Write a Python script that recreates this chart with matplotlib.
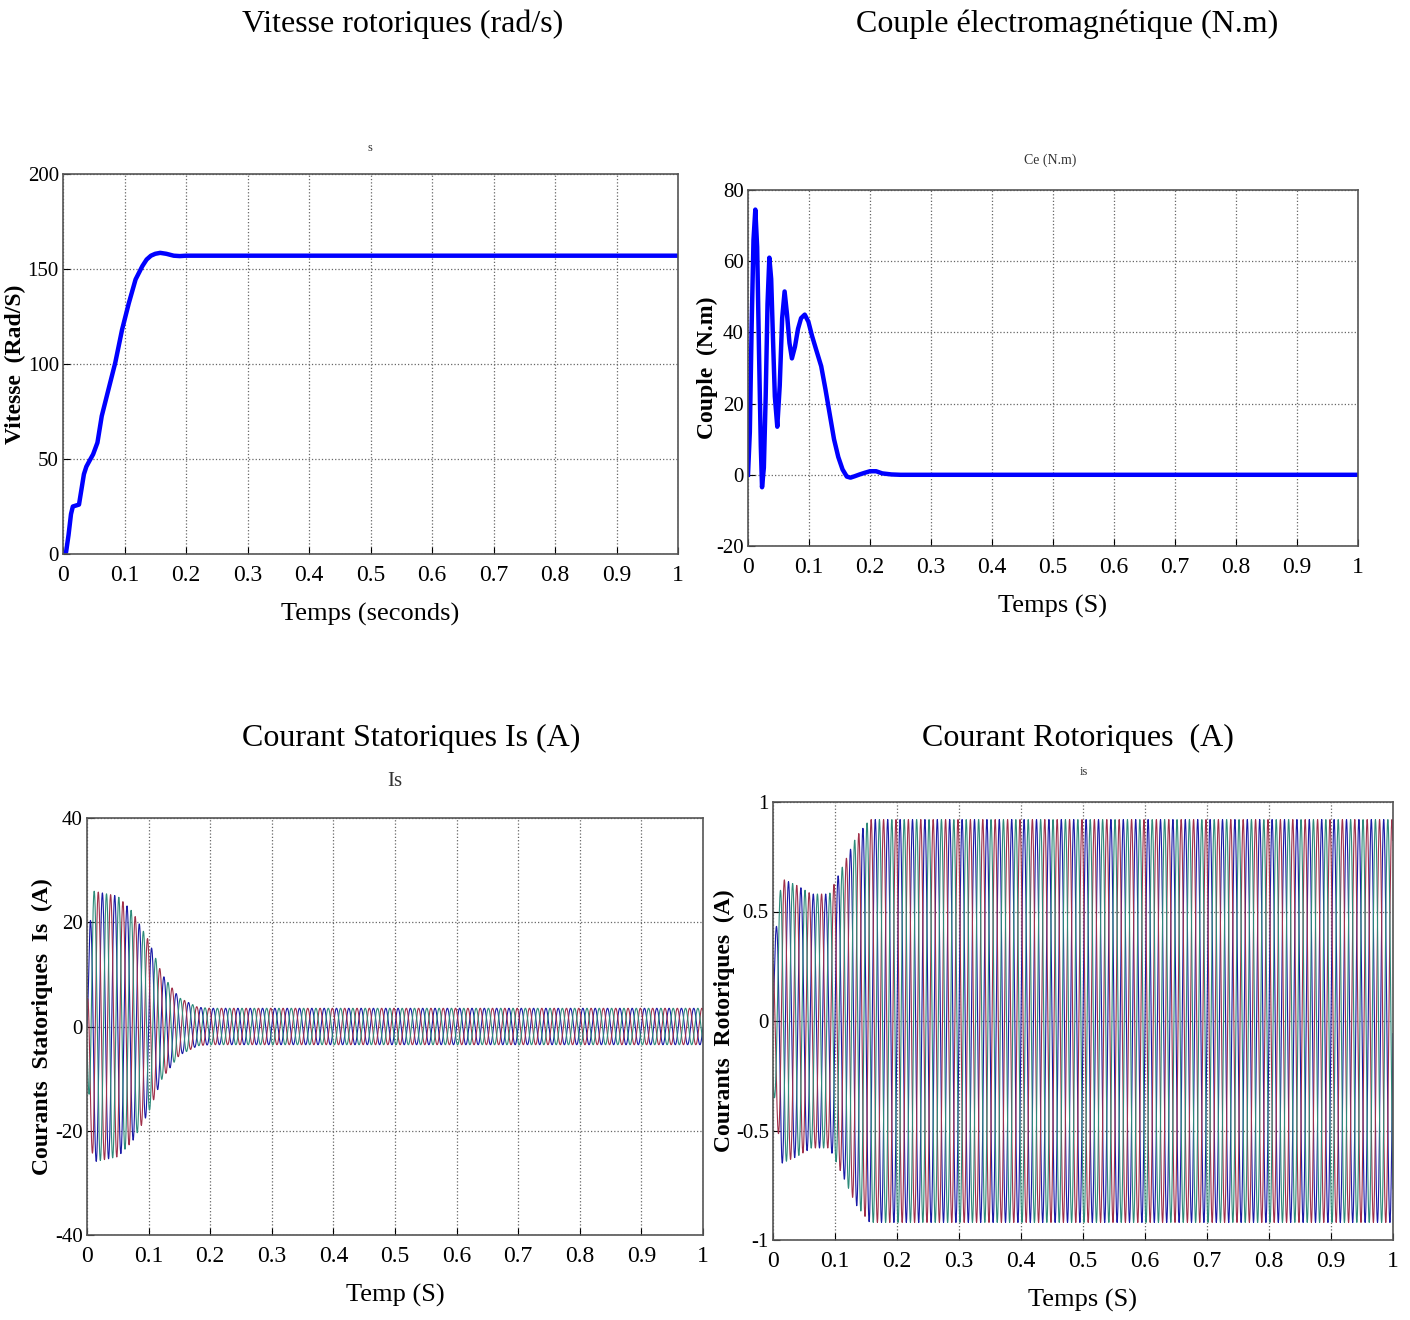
import numpy as np
import matplotlib
matplotlib.use("Agg")
import matplotlib.pyplot as plt

plt.rcParams['font.family'] = ['Liberation Serif', 'DejaVu Serif']

# vitesse rotorique (rad/s)
t_speed = [0, 0.005, 0.009, 0.013, 0.016, 0.021, 0.026, 0.03, 0.034, 0.038,
           0.043, 0.049, 0.056, 0.063, 0.074, 0.085, 0.096, 0.107, 0.118,
           0.129, 0.136, 0.143, 0.15, 0.158, 0.168, 0.18, 0.19, 0.2, 1.0]
speed = [0, 1, 10, 21, 25, 25.5, 26, 34, 42, 46,
         49, 52.5, 58.6, 72.6, 86.7, 100.7, 118, 132, 144.5,
         151.5, 155, 157, 158, 158.5, 158, 157, 156.8, 157, 157]

# couple electromagnetique (N.m)
t_torque = [0, 0.003, 0.006, 0.009, 0.012, 0.015, 0.018, 0.021, 0.023, 0.026,
            0.029, 0.032, 0.035, 0.038, 0.041, 0.044, 0.048, 0.052, 0.056,
            0.06, 0.064, 0.068, 0.072, 0.077, 0.082, 0.087, 0.093, 0.099,
            0.105, 0.112, 0.12, 0.127, 0.134, 0.141, 0.148, 0.155, 0.162,
            0.168, 0.175, 0.183, 0.192, 0.2, 0.21, 0.22, 0.235, 0.25, 1.0]
torque = [0, 12, 42, 66, 74.5, 64, 35, 8, -3.5, 2,
          22, 48, 61, 55, 38, 22, 13.5, 25, 44,
          51.5, 45, 37, 32.7, 36, 41, 44, 45, 43,
          39, 35, 30.5, 24, 17, 10, 5, 1.5, -0.5,
          -0.8, -0.4, 0.1, 0.6, 1.0, 1.0, 0.4, 0.1, 0, 0]

# enveloppes des courants (amplitude)
t_is_env = [0, 0.005, 0.01, 0.03, 0.05, 0.074, 0.1, 0.122, 0.15, 0.18, 0.2, 1.0]
is_env = [5, 20, 26, 25.5, 25, 22, 16.5, 10, 5.5, 3.7, 3.5, 3.5]

t_ir_env = [0, 0.014, 0.038, 0.062, 0.091, 0.113, 0.134, 0.156, 0.17, 1.0]
ir_env = [0.3, 0.65, 0.62, 0.58, 0.58, 0.71, 0.84, 0.92, 0.92, 0.92]

f_supply = 50.0
phase_deg = [0, 120, 240]
phase_colors = ['#1a1aa6', '#a0304a', '#2e8b7a']

fig = plt.figure(figsize=(14.1, 13.2), dpi=100)

head_kw = dict(fontsize=23, ha='center', va='center')
fig.text(403 / 1410, 1 - 24 / 1320, 'Vitesse rotoriques (rad/s)', **head_kw)
fig.text(1067 / 1410, 1 - 24 / 1320, 'Couple électromagnétique (N.m)', **head_kw)
fig.text(411 / 1410, 1 - 738 / 1320, 'Courant Statoriques Is (A)', **head_kw)
fig.text(1078 / 1410, 1 - 738 / 1320, 'Courant Rotoriques  (A)', **head_kw)

small_kw = dict(ha='center', va='center', color='#333333')
fig.text(370 / 1410, 1 - 148 / 1320, 's', fontsize=9, **small_kw)
fig.text(1050 / 1410, 1 - 160 / 1320, 'Ce (N.m)', fontsize=10, **small_kw)
fig.text(395 / 1410, 1 - 782 / 1320, 'Is', fontsize=15, **small_kw)
fig.text(1084 / 1410, 1 - 772 / 1320, 'is', fontsize=9, **small_kw)


def style_axes(ax, yticks, ylabels, xlabel, ylabel, ylab_x):
    ax.set_xlim(0, 1)
    ax.set_ylim(yticks[0], yticks[-1])
    ax.set_xticks(np.round(np.arange(0, 1.01, 0.1), 1))
    ax.set_xticklabels(['0', '0.1', '0.2', '0.3', '0.4', '0.5', '0.6',
                        '0.7', '0.8', '0.9', '1'])
    ax.set_yticks(yticks)
    ax.set_yticklabels(ylabels)
    ax.tick_params(direction='in', length=5)
    ax.tick_params(axis='x', labelsize=17, pad=8)
    ax.tick_params(axis='y', labelsize=15, pad=3)
    ax.grid(True, linestyle=':', color='#666666', linewidth=0.9)
    for s in ax.spines.values():
        s.set_color('#555555')
        s.set_linewidth(1.2)
    ax.set_xlabel(xlabel, fontsize=19, labelpad=12)
    ax.set_ylabel(ylabel, fontsize=17, fontweight='bold')
    ax.yaxis.set_label_coords(ylab_x, 0.5)


# vitesse
ax1 = fig.add_axes([63 / 1410, 1 - 554 / 1320, 615 / 1410, 380 / 1320])
ax1.plot(t_speed, speed, color='#0000ff', linewidth=3.2)
style_axes(ax1, [0, 50, 100, 150, 200], ['0', '50', '100', '150', '200'],
           'Temps (seconds)', 'Vitesse  (Rad/S)', -0.06)

# couple
ax2 = fig.add_axes([748 / 1410, 1 - 546 / 1320, 610 / 1410, 356 / 1320])
ax2.plot(t_torque, torque, color='#0000ff', linewidth=3.2)
style_axes(ax2, [-20, 0, 20, 40, 60, 80], ['-20', '0', '20', '40', '60', '80'],
           'Temps (S)', 'Couple  (N.m)', -0.05)

# courants statoriques
t = np.arange(0, 1.0, 0.0002)
ax3 = fig.add_axes([87 / 1410, 1 - 1235 / 1320, 616 / 1410, 417 / 1320])
amp_s = np.interp(t, t_is_env, is_env)
for ph, col in zip(phase_deg, phase_colors):
    ax3.plot(t, amp_s * np.sin(2 * np.pi * f_supply * t + np.radians(ph)),
             color=col, linewidth=0.8, rasterized=True)
style_axes(ax3, [-40, -20, 0, 20, 40], ['-40', '-20', '0', '20', '40'],
           'Temp (S)', 'Courants  Statoriques  Is  (A)', -0.056)

# courants rotoriques
ax4 = fig.add_axes([773 / 1410, 1 - 1240 / 1320, 620 / 1410, 438 / 1320])
amp_r = np.interp(t, t_ir_env, ir_env)
for ph, col in zip(phase_deg, phase_colors):
    ax4.plot(t, amp_r * np.sin(2 * np.pi * f_supply * t + np.radians(ph)),
             color=col, linewidth=0.8, rasterized=True)
style_axes(ax4, [-1, -0.5, 0, 0.5, 1], ['-1', '-0.5', '0', '0.5', '1'],
           'Temps (S)', 'Courants  Rotoriques  (A)', -0.062)

fig.savefig('out.png', dpi=100)
